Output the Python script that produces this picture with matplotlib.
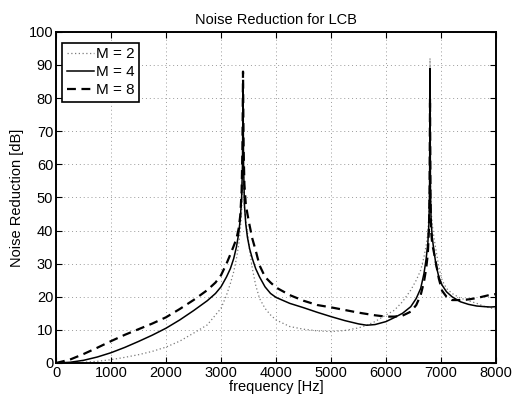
import matplotlib
matplotlib.use("Agg")
import matplotlib.pyplot as plt

plt.rcParams["font.family"] = ["Liberation Sans", "DejaVu Sans"]

# frequency grid [Hz], shared by all three curves
freq = [0, 250, 500, 750, 1000, 1250, 1500, 1750, 2000, 2250, 2500, 2750, 2900,
        3000, 3100, 3170, 3230, 3280, 3320, 3350, 3375, 3390, 3400, 3410, 3425,
        3450, 3480, 3520, 3570, 3630, 3700, 3800, 3900, 4000, 4250, 4500, 4750,
        5000, 5250, 5500, 5650, 5800, 6000, 6150, 6300, 6450, 6550, 6630, 6690,
        6730, 6760, 6780, 6792, 6800, 6808, 6820, 6840, 6870, 6910, 6960, 7020,
        7100, 7200, 7350, 7500, 7650, 7800, 7900, 8000]

# noise reduction [dB]
nr_m2 = [0, 0, 0.2, 0.5, 1, 1.7, 2.5, 3.5, 4.8, 6.6, 9, 11.5, 14.5,
         16.5, 20.5, 24, 27.5, 31.5, 35.5, 40, 46, 55, 75, 55, 47,
         43, 39.5, 34, 28.5, 23.5, 19.5, 16.5, 14.5, 13, 11, 10.2, 9.7,
         9.5, 9.8, 10.6, 11.4, 12.5, 14.5, 15.9, 18.5, 22, 25, 28, 32,
         35.5, 39, 45, 55, 92, 55, 46, 42, 38, 34, 29, 25,
         22.5, 21, 19.6, 18.8, 18, 17, 16.6, 16.3]
nr_m4 = [0, 0.2, 0.8, 1.8, 3.1, 4.7, 6.5, 8.4, 10.5, 13, 15.8, 18.8, 21,
         23, 26, 28.5, 31.5, 35, 39, 43.5, 50, 60, 84, 60, 48,
         42, 38, 34.5, 31.5, 28.5, 26, 23, 21, 19.8, 18, 16.7, 15.3,
         14, 12.8, 11.8, 11.4, 11.6, 12.5, 13.7, 15, 17, 19.5, 22.5, 27,
         31.5, 36, 42, 52, 89, 52, 43, 38, 34, 29.5, 26, 23.5,
         21.5, 20, 18.5, 17.7, 17.2, 17, 16.9, 17]
nr_m8 = [0, 1, 2.7, 4.6, 6.6, 8.5, 10.2, 11.9, 13.8, 16.3, 19, 22, 24.3,
         26.5, 30, 32.8, 35.3, 37.5, 40.5, 44.5, 52, 65, 88, 65, 54,
         48, 45, 41.5, 37.5, 34, 29.5, 26, 24.3, 22.8, 20.5, 18.8, 17.5,
         16.8, 16, 15.2, 14.8, 14.4, 14, 14, 14.3, 15.5, 17.5, 20.5, 24.5,
         28.5, 33, 40, 50, 80, 50, 40, 36, 33.5, 30, 25.5, 21.8,
         20, 19, 19, 19.2, 19.6, 20.2, 20.6, 20.8]

fig = plt.figure(figsize=(5.14, 3.98), dpi=100)
ax = fig.add_axes([0.109, 0.088, 0.856, 0.832])

ax.plot(freq, nr_m2, color="#7a7a7a", lw=0.9, ls=(0, (1, 2)), label="M = 2")
ax.plot(freq, nr_m4, color="black", lw=1.1, ls="-", label="M = 4")
ax.plot(freq, nr_m8, color="black", lw=1.6, ls=(0, (4, 2.5)), label="M = 8")

ax.set_xlim(0, 8000)
ax.set_ylim(0, 100)
ax.set_xticks(range(0, 8001, 1000))
ax.set_yticks(range(0, 101, 10))
ax.grid(True, color="#9a9a9a", ls=(0, (1, 3)), lw=0.7)
ax.tick_params(direction="in", top=True, right=True, labelsize=10.5, length=4, width=0.8, pad=2)
for spine in ax.spines.values():
    spine.set_linewidth(1.4)

ax.set_title("Noise Reduction for LCB", fontsize=10.5, pad=6)
ax.set_xlabel("frequency [Hz]", fontsize=10.5, labelpad=0)
ax.set_ylabel("Noise Reduction [dB]", fontsize=10.5, labelpad=3)

leg = ax.legend(loc="upper left", bbox_to_anchor=(0.014, 0.967), borderaxespad=0,
                fontsize=11, handlelength=1.8, handletextpad=0.1,
                borderpad=0.3, labelspacing=0.25, fancybox=False, framealpha=1)
leg.get_frame().set_edgecolor("black")
leg.get_frame().set_linewidth(1.2)

fig.savefig("out.png", dpi=100)
